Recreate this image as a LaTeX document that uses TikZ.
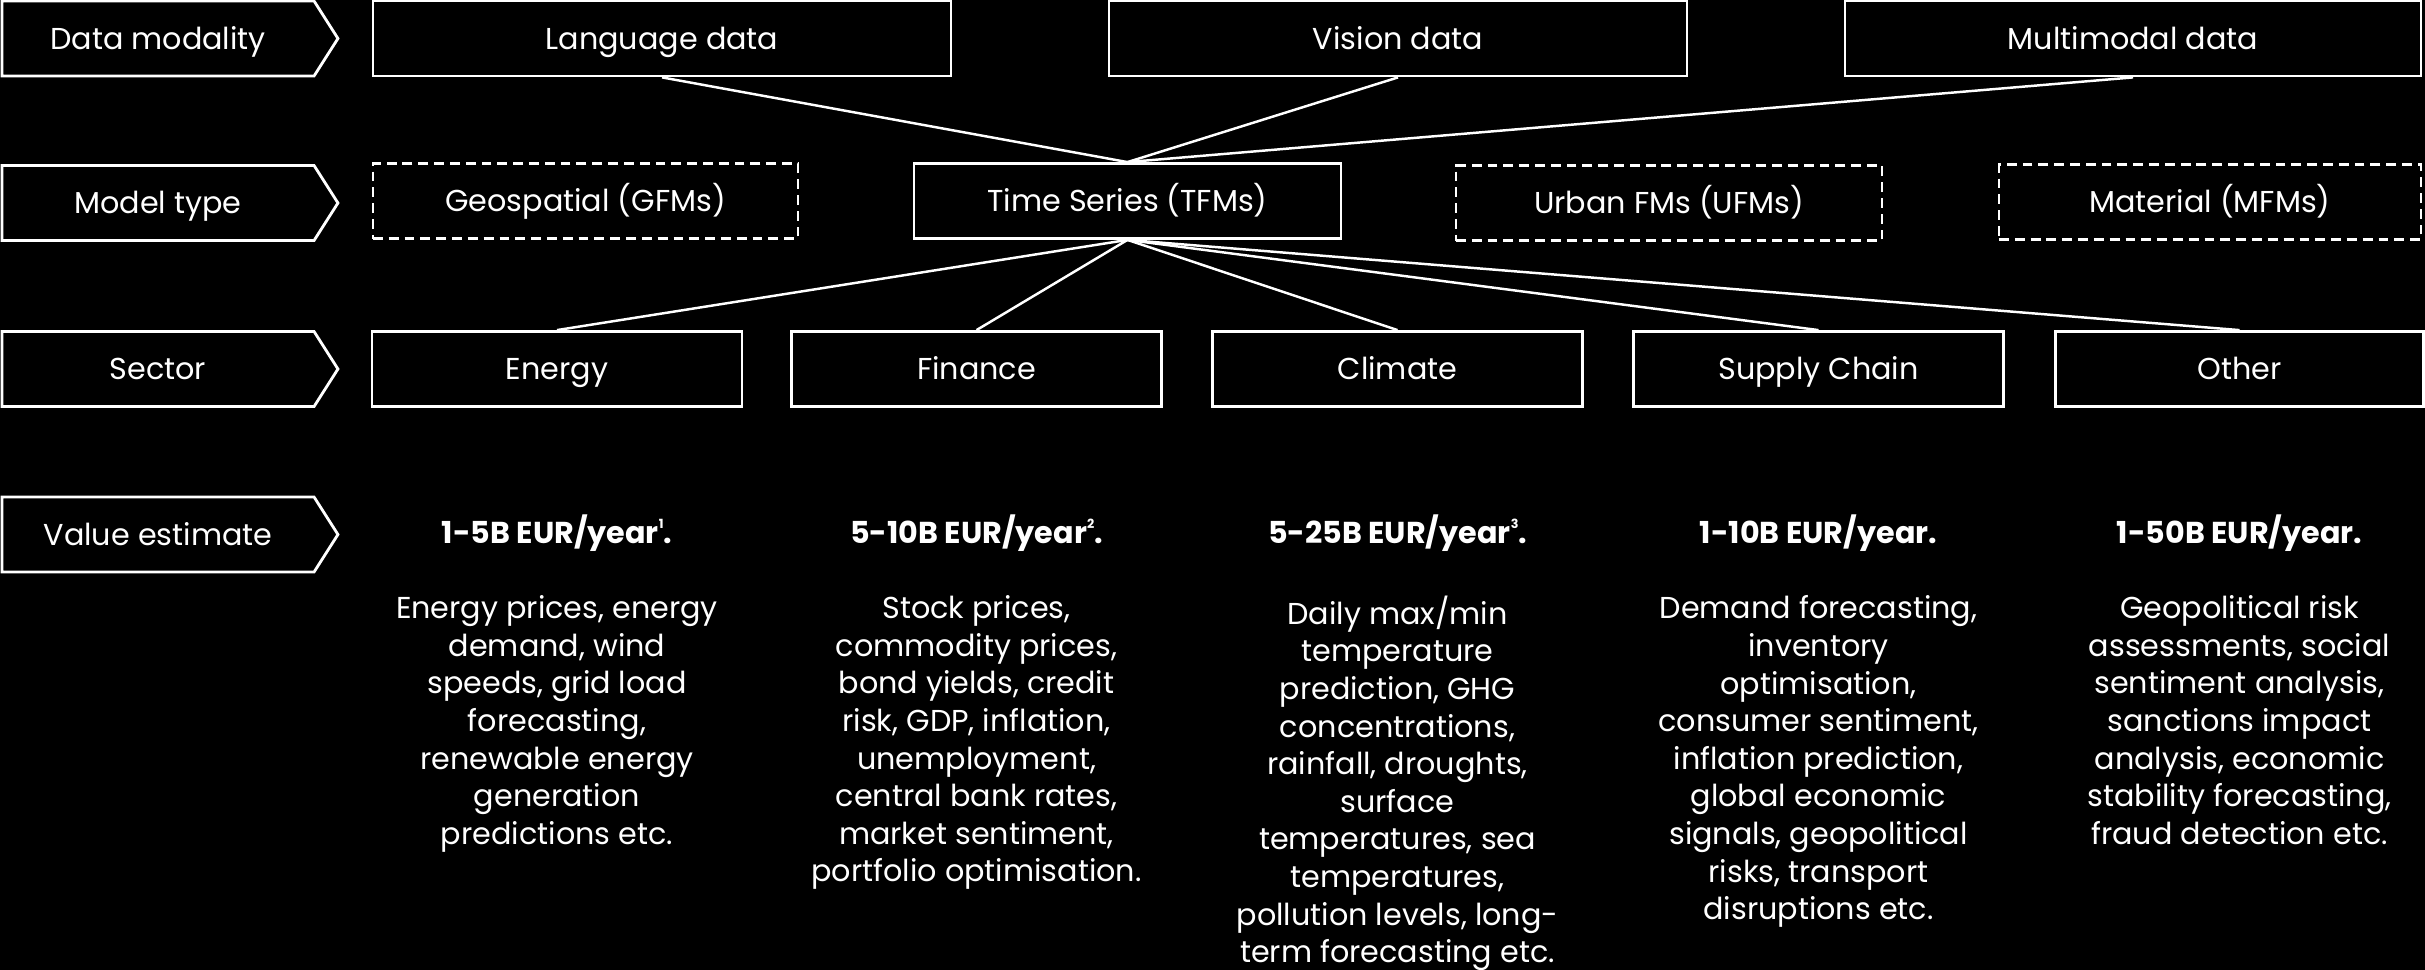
\documentclass[tikz,border=0pt]{standalone}
\usepackage{fontspec}
\setmainfont{Poppins}
\usetikzlibrary{shapes.symbols}
\newcommand{\fnmark}[1]{\raisebox{0.9ex}{\fontsize{3.6}{4}\selectfont #1}}

\begin{document}
\begin{tikzpicture}[x=1cm, y=1cm,
  every node/.style={font=\fontsize{8.6}{10.7}\selectfont, text=white},
  rowlabel/.style={draw=white, line width=0.8pt, fill=black, shape=signal, signal to=east,
    signal pointer angle=115, minimum width=3.36cm, minimum height=0.75cm, inner sep=0pt,
    text height=0.28cm, text depth=0.07cm},
  catbox/.style={draw=white, line width=0.8pt, fill=black, minimum height=0.75cm, inner sep=0pt,
    text height=0.28cm, text depth=0.07cm},
  maybebox/.style={catbox, dash pattern=on 2.8pt off 1.7pt},
  valhead/.style={font=\fontsize{8.6}{10.7}\selectfont\bfseries},
  valtext/.style={align=center, anchor=north, inner sep=0pt},
  link/.style={draw=white, line width=0.7pt}]
  \fill[black] (0,0) rectangle (24.25,-9.70);
  \useasboundingbox (0,0) rectangle (24.25,-9.70);

  % Data modality row
  \node[rowlabel] (dmlabel) at (1.58,-0.385) {Data modality};
  \node[catbox, minimum width=5.78cm] (lang) at (6.62,-0.385) {Language data};
  \node[catbox, minimum width=5.78cm] (vision) at (13.98,-0.385) {Vision data};
  \node[catbox, minimum width=5.76cm] (multi) at (21.33,-0.385) {Multimodal data};

  % Model type row
  \node[rowlabel] (mtlabel) at (1.58,-2.03) {Model type};
  \node[maybebox, minimum width=4.25cm] (geo) at (5.855,-2.01) {Geospatial (GFMs)};
  \node[catbox, minimum width=4.27cm] (ts) at (11.275,-2.01) {Time Series (TFMs)};
  \node[maybebox, minimum width=4.26cm] (urban) at (16.69,-2.03) {Urban FMs (UFMs)};
  \node[maybebox, minimum width=4.22cm] (material) at (22.10,-2.02) {Material (MFMs)};

  % Sector row
  \node[rowlabel] (seclabel) at (1.58,-3.69) {Sector};
  \node[catbox, minimum width=3.70cm] (energy) at (5.57,-3.69) {Energy};
  \node[catbox, minimum width=3.70cm] (finance) at (9.765,-3.69) {Finance};
  \node[catbox, minimum width=3.70cm] (climate) at (13.975,-3.69) {Climate};
  \node[catbox, minimum width=3.70cm] (supply) at (18.185,-3.69) {Supply Chain};
  \node[catbox, minimum width=3.68cm] (other) at (22.395,-3.69) {Other};

  % links into and out of time series
  \draw[link] (lang.south) -- (ts.north);
  \draw[link] (vision.south) -- (ts.north);
  \draw[link] (multi.south) -- (ts.north);
  \draw[link] (ts.south) -- (energy.north);
  \draw[link] (ts.south) -- (finance.north);
  \draw[link] (ts.south) -- (climate.north);
  \draw[link] (ts.south) -- (supply.north);
  \draw[link] (ts.south) -- (other.north);

  % Value estimate row
  \node[rowlabel] (vallabel) at (1.58,-5.345) {Value estimate};
  \node[valhead] (energyval) at (5.57,-5.33) {1-5B EUR/year\fnmark{1}.};
  \node[valhead] (financeval) at (9.765,-5.33) {5-10B EUR/year\fnmark{2}.};
  \node[valhead] (climateval) at (13.975,-5.33) {5-25B EUR/year\fnmark{3}.};
  \node[valhead] (supplyval) at (18.185,-5.33) {1-10B EUR/year.};
  \node[valhead] (otherval) at (22.395,-5.33) {1-50B EUR/year.};

  \node[valtext] (energytxt) at (5.57,-5.95) {Energy prices, energy\\demand, wind\\speeds, grid load\\forecasting,\\renewable energy\\generation\\predictions etc.};
  \node[valtext] (financetxt) at (9.765,-5.95) {Stock prices,\\commodity prices,\\bond yields, credit\\risk, GDP, inflation,\\unemployment,\\central bank rates,\\market sentiment,\\portfolio optimisation.};
  \node[valtext] (climatetxt) at (13.975,-5.95) {Daily max/min\\temperature\\prediction, GHG\\concentrations,\\rainfall, droughts,\\surface\\temperatures, sea\\temperatures,\\pollution levels, long-\\term forecasting etc.};
  \node[valtext] (supplytxt) at (18.185,-5.95) {Demand forecasting,\\inventory\\optimisation,\\consumer sentiment,\\inflation prediction,\\global economic\\signals, geopolitical\\risks, transport\\disruptions etc.};
  \node[valtext] (othertxt) at (22.395,-5.95) {Geopolitical risk\\assessments, social\\sentiment analysis,\\sanctions impact\\analysis, economic\\stability forecasting,\\fraud detection etc.};
\end{tikzpicture}
\end{document}
